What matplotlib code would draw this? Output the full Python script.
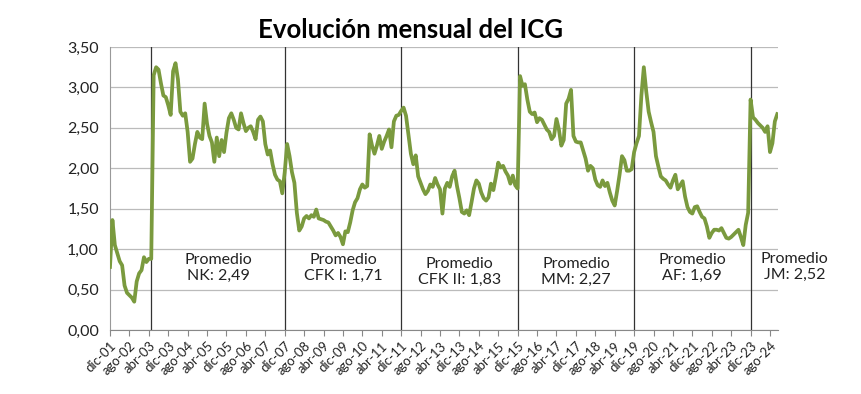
import numpy as np
import matplotlib
matplotlib.use('Agg')
import matplotlib.pyplot as plt

plt.rcParams['font.family'] = ['Lato', 'DejaVu Sans']

# monthly ICG values, dic-01 .. nov-24
icg = [
    0.78, 1.36, 1.05, 0.95, 0.85, 0.80, 0.55, 0.46, 0.43, 0.40, 0.35, 0.60,
    0.70, 0.74, 0.90, 0.84, 0.88, 0.88, 3.15, 3.25, 3.22, 3.05, 2.90, 2.88,
    2.78, 2.66, 3.20, 3.30, 3.10, 2.70, 2.65, 2.68, 2.45, 2.08, 2.12, 2.30,
    2.45, 2.38, 2.36, 2.80, 2.55, 2.40, 2.32, 2.08, 2.38, 2.15, 2.35, 2.20,
    2.44, 2.62, 2.68, 2.60, 2.50, 2.48, 2.68, 2.56, 2.46, 2.50, 2.52, 2.45,
    2.36, 2.60, 2.64, 2.58, 2.30, 2.17, 2.22, 2.05, 1.92, 1.86, 1.84, 1.69,
    1.95, 2.30, 2.15, 1.95, 1.82, 1.45, 1.23, 1.28, 1.38, 1.41, 1.38, 1.42,
    1.40, 1.49, 1.38, 1.37, 1.36, 1.34, 1.33, 1.28, 1.23, 1.17, 1.20, 1.15,
    1.06, 1.22, 1.21, 1.33, 1.48, 1.58, 1.63, 1.74, 1.80, 1.76, 1.78, 2.42,
    2.28, 2.18, 2.28, 2.40, 2.24, 2.33, 2.40, 2.48, 2.26, 2.58, 2.65, 2.66,
    2.71, 2.75, 2.65, 2.42, 2.18, 2.05, 2.16, 1.90, 1.82, 1.74, 1.68, 1.72,
    1.80, 1.77, 1.88, 1.80, 1.74, 1.44, 1.75, 1.82, 1.77, 1.90, 1.97, 1.78,
    1.63, 1.46, 1.44, 1.48, 1.42, 1.58, 1.75, 1.85, 1.81, 1.70, 1.63, 1.60,
    1.64, 1.81, 1.73, 1.89, 2.07, 2.01, 2.03, 1.96, 1.91, 1.81, 1.91, 1.79,
    1.75, 3.14, 3.02, 3.04, 2.85, 2.70, 2.67, 2.69, 2.57, 2.62, 2.60, 2.54,
    2.48, 2.45, 2.36, 2.40, 2.61, 2.48, 2.28, 2.35, 2.80, 2.86, 2.97, 2.40,
    2.33, 2.32, 2.32, 2.22, 2.12, 1.97, 2.03, 2.00, 1.86, 1.79, 1.77, 1.85,
    1.78, 1.82, 1.70, 1.60, 1.54, 1.72, 1.92, 2.15, 2.10, 1.97, 1.97, 1.99,
    2.20, 2.31, 2.40, 2.90, 3.25, 2.95, 2.70, 2.57, 2.45, 2.15, 2.02, 1.90,
    1.87, 1.85, 1.80, 1.76, 1.85, 1.92, 1.74, 1.79, 1.84, 1.65, 1.52, 1.46,
    1.44, 1.52, 1.53, 1.46, 1.40, 1.38, 1.28, 1.14, 1.20, 1.24, 1.24, 1.23,
    1.26, 1.20, 1.14, 1.13, 1.15, 1.18, 1.21, 1.24, 1.15, 1.05, 1.30, 1.45,
    2.85, 2.63, 2.60, 2.56, 2.53, 2.50, 2.45, 2.52, 2.20, 2.31, 2.58, 2.67,
]

tick_labels = ['dic-01', 'ago-02', 'abr-03', 'dic-03', 'ago-04', 'abr-05', 'dic-05',
               'ago-06', 'abr-07', 'dic-07', 'ago-08', 'abr-09', 'dic-09', 'ago-10',
               'abr-11', 'dic-11', 'ago-12', 'abr-13', 'dic-13', 'ago-14', 'abr-15',
               'dic-15', 'ago-16', 'abr-17', 'dic-17', 'ago-18', 'abr-19', 'dic-19',
               'ago-20', 'abr-21', 'dic-21', 'ago-22', 'abr-23', 'dic-23', 'ago-24']

# month index where each government starts
gov_start = [17, 72, 120, 168, 216, 264]
gov_labels = ['Promedio\nNK: 2,49', 'Promedio\nCFK I: 1,71', 'Promedio\nCFK II: 1,83',
              'Promedio\nMM: 2,27', 'Promedio\nAF: 1,69', 'Promedio\nJM: 2,52']

y_ticks = [0, 0.5, 1.0, 1.5, 2.0, 2.5, 3.0, 3.5]

fig = plt.figure(figsize=(8.62, 3.94), dpi=100)
ax = fig.add_axes([110 / 862, 1 - 330 / 394, 668 / 862, 283 / 394])

x = np.arange(len(icg))
ax.plot(x, icg, color='#7A9A3E', linewidth=2.7, solid_joinstyle='round', zorder=3)

for s in gov_start:
    ax.axvline(s, color='#333333', linewidth=0.9, zorder=2)

# labels sit in the middle of each period (the last one runs past the axis)
ends = gov_start[1:] + [300]
label_y = [0.77, 0.77, 0.72, 0.72, 0.77, 0.78]
for s, e, lab, ly in zip(gov_start, ends, gov_labels, label_y):
    ax.text((s + e) / 2, ly, lab, ha='center', va='center', fontsize=11.5,
            color='#222222', linespacing=1.2, clip_on=False)

ax.set_xlim(0, 275.3)
ax.set_ylim(0, 3.5)
ax.set_yticks(y_ticks)
ax.set_yticklabels([('%.2f' % v).replace('.', ',') for v in y_ticks], fontsize=11.5, color='#222222')
ax.set_xticks(np.arange(0, len(tick_labels) * 8, 8))
ax.set_xticklabels(tick_labels, rotation=45, ha='right', rotation_mode='anchor',
                   fontsize=9.5, color='#222222')
ax.tick_params(axis='y', length=0, pad=8)
ax.tick_params(axis='x', length=4, color='#888888', pad=3)

ax.grid(axis='y', color='#BBBBBB', linewidth=0.9)
ax.set_axisbelow(True)
for side in ['top', 'right']:
    ax.spines[side].set_visible(False)
ax.spines['left'].set_color('#999999')
ax.spines['bottom'].set_color('#888888')

fig.text(0.476, 0.925, 'Evolución mensual del ICG', ha='center', va='center',
         fontsize=18.5, fontweight='bold')

fig.savefig('out.png', dpi=100)
